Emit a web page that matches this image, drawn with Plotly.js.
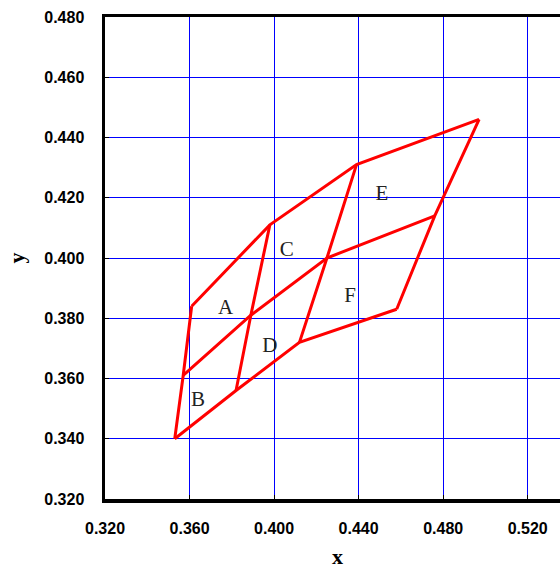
<!DOCTYPE html>
<html>
<head>
<meta charset="utf-8">
<script src="https://cdn.plot.ly/plotly-3.0.1.min.js"></script>
<style>
html, body { margin:0; padding:0; overflow:hidden; background:#fff; }
#chart { width:580px; height:570px; }
</style>
</head>
<body>
<div id="chart"></div>
<script>
// Grid nodes (three "row" lines, four nodes each)
var bottomX = [0.353, 0.382, 0.412, 0.458];
var bottomY = [0.340, 0.356, 0.372, 0.383];
var middleX = [0.357, 0.389, 0.425, 0.476];
var middleY = [0.361, 0.381, 0.400, 0.414];
var topX    = [0.361, 0.398, 0.439, 0.497];
var topY    = [0.384, 0.411, 0.431, 0.446];

// Region labels
var labelText = ['A', 'B', 'C', 'D', 'E', 'F'];
var labelX = [0.377, 0.364, 0.406, 0.398, 0.451, 0.436];
var labelY = [0.383, 0.3525, 0.4025, 0.3705, 0.421, 0.387];

// Axis ticks
var xTicks = [0.32, 0.36, 0.40, 0.44, 0.48, 0.52];
var xTickText = ['0.320', '0.360', '0.400', '0.440', '0.480', '0.520'];
var yTicks = [0.32, 0.34, 0.36, 0.38, 0.40, 0.42, 0.44, 0.46, 0.48];
var yTickText = ['0.320', '0.340', '0.360', '0.380', '0.400', '0.420', '0.440', '0.460', '0.480'];

var lineStyle = { color: '#ff0000', width: 3 };
var traces = [];
[[bottomX, bottomY], [middleX, middleY], [topX, topY]].forEach(function (r) {
  traces.push({ x: r[0], y: r[1], mode: 'lines', line: lineStyle, hoverinfo: 'skip', showlegend: false });
});
for (var i = 0; i < bottomX.length; i++) {
  traces.push({
    x: [bottomX[i], middleX[i], topX[i]],
    y: [bottomY[i], middleY[i], topY[i]],
    mode: 'lines', line: lineStyle, hoverinfo: 'skip', showlegend: false
  });
}
traces.push({
  x: labelX, y: labelY, text: labelText, mode: 'text',
  textfont: { family: 'Liberation Serif, serif', size: 21, color: '#222' },
  hoverinfo: 'skip', showlegend: false
});

var tickFont = { family: 'Liberation Sans, Arial, sans-serif', size: 16, color: '#000', weight: 'bold' };
var titleFont = { family: 'Liberation Serif, serif', size: 22, color: '#000', weight: 'bold' };

var layout = {
  width: 580, height: 570,
  margin: { l: 105, r: 10, t: 17, b: 71 },
  paper_bgcolor: '#fff', plot_bgcolor: '#fff',
  xaxis: {
    range: [0.32, 0.54], tickvals: xTicks, ticktext: xTickText,
    showgrid: true, gridcolor: '#0000ff', gridwidth: 1, zeroline: false,
    showline: true, linecolor: '#000', linewidth: 3.5, mirror: true,
    ticks: 'inside', ticklen: 4, tickcolor: '#000', tickwidth: 1,
    tickfont: tickFont, ticklabelstandoff: 12,
    title: { text: 'x', font: titleFont, standoff: 14 },
    automargin: false, fixedrange: true
  },
  yaxis: {
    range: [0.32, 0.48], tickvals: yTicks, ticktext: yTickText,
    showgrid: true, gridcolor: '#0000ff', gridwidth: 1, zeroline: false,
    showline: true, linecolor: '#000', linewidth: 3.5, mirror: true,
    ticks: 'inside', ticklen: 4, tickcolor: '#000', tickwidth: 1,
    tickfont: tickFont, ticklabelstandoff: 14,
    title: { text: 'y', font: titleFont, standoff: 14 },
    automargin: false, fixedrange: true
  },
  showlegend: false
};

Plotly.newPlot('chart', traces, layout, { displayModeBar: false, staticPlot: true });
</script>
</body>
</html>
